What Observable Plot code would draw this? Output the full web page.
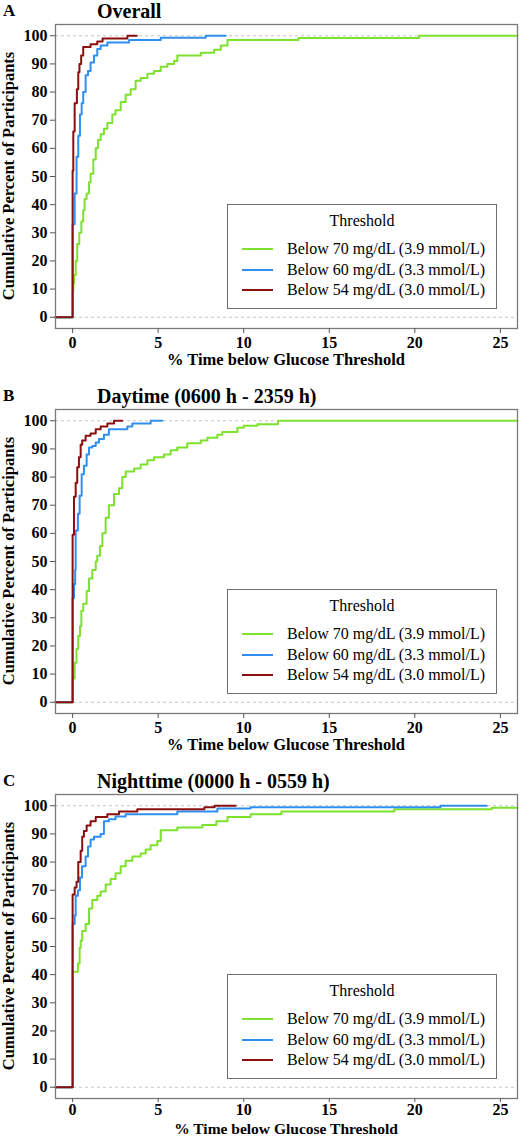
<!DOCTYPE html>
<html>
<head>
<meta charset="utf-8">
<script src="https://cdn.jsdelivr.net/npm/d3@7"></script>
<script src="https://cdn.jsdelivr.net/npm/@observablehq/plot@0.6"></script>
<style>
  body { margin: 0; background: #fff; }
  #root { width: 520px; height: 1138px; position: relative; font-family: "Liberation Serif", "Times New Roman", serif; color: #000; overflow: hidden; }
  .panel { position: absolute; left: 0; width: 520px; height: 385px; }
  .panel svg { position: absolute; left: 0; top: 0; }
  .letter { position: absolute; left: 3px; top: 0; font-weight: bold; font-size: 17px; line-height: 22px; }
  .title { position: absolute; left: 97px; top: 0; font-weight: bold; font-size: 20px; line-height: 22px; white-space: nowrap; }
  .xlabel { position: absolute; left: 55px; width: 462px; top: 353px; text-align: center; font-weight: bold; font-size: 16.5px; line-height: 14px; white-space: nowrap; }
  .ylabel { position: absolute; left: 9px; top: 176px; transform-origin: 0 0; transform: rotate(-90deg) translate(-50%, -50%); font-weight: bold; font-size: 16.5px; line-height: 20px; white-space: nowrap; }
  .legend { position: absolute; left: 227px; top: 204px; width: 270px; height: 105px; border: 1px solid #6e6e6e; box-sizing: border-box; background: #fff; font-size: 16px; }
  .legend .lt { position: absolute; left: 0; width: 100%; top: 6px; text-align: center; line-height: 20px; }
  .legend .row { position: absolute; left: 0; width: 100%; height: 20px; line-height: 20px; }
  .legend .sw { position: absolute; left: 14px; width: 31px; height: 2px; top: 9px; }
  .legend .tx { position: absolute; left: 59px; top: 0; white-space: nowrap; }
</style>
</head>
<body>
<div id="root"></div>
<script>
// ---------- labels ----------
const panelLetters = ["A", "B", "C"];
const panelTitles = ["Overall", "Daytime (0600 h - 2359 h)", "Nighttime (0000 h - 0559 h)"];
const xAxisLabel = "% Time below Glucose Threshold";
const yAxisLabel = "Cumulative Percent of Participants";
const legendTitle = "Threshold";
const seriesNames = ["Below 70 mg/dL (3.9 mmol/L)", "Below 60 mg/dL (3.3 mmol/L)", "Below 54 mg/dL (3.0 mmol/L)"];
const seriesColors = ["#7ee12f", "#2f8ff0", "#8b0f0f"];
const xTicks = [0, 5, 10, 15, 20, 25];
const yTicks = [0, 10, 20, 30, 40, 50, 60, 70, 80, 90, 100];

// ---------- Panel A: Overall ----------
const aBelow70X = [-1, 0, 0.04, 0.08, 0.18, 0.27, 0.39, 0.51, 0.62, 0.70, 0.82, 0.96, 1.05, 1.21, 1.35, 1.48, 1.64, 1.83, 2.03, 2.32, 2.51, 2.81, 3.10, 3.39, 3.68, 3.98, 4.37, 4.76, 5.15, 5.54, 5.93, 6.12, 7.50, 8.27, 8.66, 9.05, 13.2, 20.25, 26];
const aBelow70Y = [0, 9, 12, 15, 20, 26, 30, 34, 38, 42, 44, 48, 51, 56, 60, 63, 65, 67, 69, 72, 73.5, 76.5, 79, 81, 84, 85, 86.5, 87.5, 89, 90, 91, 93, 94, 95, 96.5, 98.5, 99.2, 100, 100];
const aBelow60X = [-1, 0, 0.12, 0.23, 0.33, 0.43, 0.53, 0.62, 0.76, 0.90, 1.05, 1.25, 1.44, 1.64, 2.03, 3.30, 5.15, 7.78, 8.95];
const aBelow60Y = [0, 33, 44, 57, 64.5, 72, 76, 80, 86, 87.5, 90.5, 93, 95.3, 96.5, 97.6, 98.5, 99.3, 100, 100];
const aBelow54X = [-1, 0, 0.04, 0.12, 0.25, 0.33, 0.40, 0.50, 0.62, 1.05, 1.44, 1.75, 3.20, 3.75];
const aBelow54Y = [0, 52, 66, 76, 81, 87, 90, 93, 96, 97, 98, 99, 100, 100];

// ---------- Panel B: Daytime ----------
const bBelow70X = [-1, 0, 0.12, 0.23, 0.33, 0.43, 0.51, 0.62, 0.82, 0.96, 1.15, 1.35, 1.44, 1.60, 1.74, 1.93, 2.12, 2.42, 2.71, 2.90, 3.10, 3.59, 3.98, 4.37, 4.76, 5.34, 5.73, 6.12, 6.70, 7.49, 7.88, 8.46, 8.75, 9.63, 10.0, 10.8, 12.0, 26];
const bBelow70Y = [0, 8.4, 14, 19, 23.5, 27, 32.5, 35, 39.5, 44, 47, 50, 52, 55.5, 60, 65.5, 70, 74, 76, 80, 82, 83, 84.5, 86, 87, 88, 89.5, 90.5, 92, 93, 94, 95, 96, 97.5, 98.2, 98.8, 100, 100];
const bBelow60X = [-1, 0, 0.08, 0.15, 0.18, 0.31, 0.41, 0.53, 0.66, 0.82, 0.96, 1.15, 1.35, 1.54, 1.83, 2.12, 3.20, 3.49, 4.56, 5.24];
const bBelow60Y = [0, 37, 42, 47, 61, 67, 73.4, 81, 84, 88, 90.5, 91, 92.3, 93.5, 95, 97, 98, 99, 100, 100];
const bBelow54X = [-1, 0, 0.08, 0.18, 0.27, 0.37, 0.47, 0.56, 0.76, 1.05, 1.35, 1.64, 2.03, 2.42, 2.90];
const bBelow54Y = [0, 59.5, 73, 78, 83.5, 87, 91.5, 93, 94.7, 95.5, 97, 98, 99, 100, 100];

// ---------- Panel C: Nighttime ----------
const cBelow70X = [-1, 0, 0.31, 0.41, 0.47, 0.56, 0.76, 0.96, 1.15, 1.44, 1.64, 1.93, 2.22, 2.51, 2.81, 3.10, 3.49, 3.98, 4.27, 4.56, 4.95, 5.15, 6.12, 7.58, 8.40, 9.05, 10.4, 12.2, 18.8, 24.5, 26];
const cBelow70Y = [0, 41, 44, 49.5, 52, 55.5, 58, 63.5, 66.5, 68, 69.5, 72, 74, 76, 78.5, 80.5, 82, 83, 84.5, 86, 87.5, 91.3, 92.3, 93.2, 94.5, 96, 97, 98, 98.8, 99.3, 99.3];
const cBelow60X = [-1, 0, 0.12, 0.18, 0.31, 0.43, 0.55, 0.76, 0.90, 1.05, 1.25, 1.64, 1.83, 2.12, 2.51, 3.10, 6.12, 8.46, 10.4, 21.5, 24.2];
const cBelow60Y = [0, 58, 61, 68, 70, 74.5, 78.5, 82, 85.5, 88, 89, 90, 94.5, 95.2, 96.2, 97, 98, 99, 99.5, 100, 100];
const cBelow54X = [-1, 0, 0.12, 0.23, 0.33, 0.47, 0.56, 0.66, 0.82, 1.05, 1.35, 2.03, 2.71, 3.78, 7.70, 8.30, 9.53];
const cBelow54Y = [0, 68.5, 71, 73, 80, 84, 89, 91, 93, 94.5, 96, 97, 98, 98.8, 99.5, 100, 100];

const panelSeries = [
  [[aBelow70X, aBelow70Y], [aBelow60X, aBelow60Y], [aBelow54X, aBelow54Y]],
  [[bBelow70X, bBelow70Y], [bBelow60X, bBelow60Y], [bBelow54X, bBelow54Y]],
  [[cBelow70X, cBelow70Y], [cBelow60X, cBelow60Y], [cBelow54X, cBelow54Y]]
];

const root = document.getElementById("root");

panelSeries.forEach((series, p) => {
  const rows = [];
  series.forEach(([xs, ys], s) => {
    xs.forEach((x, i) => rows.push({series: seriesNames[s], x, y: ys[i]}));
  });

  const last = p === 2;

  const panel = document.createElement("div");
  panel.className = "panel";
  panel.style.top = (p * 385) + "px";
  root.appendChild(panel);

  const chart = Plot.plot({
    width: 520,
    height: 385,
    marginTop: 24,
    marginBottom: 57,
    marginLeft: 55,
    marginRight: 3,
    x: {domain: [-1, 26]},
    y: {domain: [-4, 104]},
    color: {domain: seriesNames, range: seriesColors},
    style: {fontFamily: "'Liberation Serif', 'Times New Roman', serif", fontSize: "16px", fontWeight: "bold", color: "#000", background: "transparent"},
    marks: [
      Plot.ruleY([0, 100], {stroke: "#c4c4c4", strokeDasharray: "3,3", strokeWidth: 1}),
      Plot.line(rows, {x: "x", y: "y", z: "series", stroke: "series", curve: "step-after", strokeWidth: 2}),
      Plot.frame({stroke: "#7a7a7a", strokeWidth: 1.3}),
      Plot.axisX({ticks: xTicks, tickSize: last ? 4 : 5, tickPadding: last ? 1 : 3, label: null, stroke: "#555"}),
      Plot.axisY({ticks: yTicks, tickSize: 5, tickPadding: 3, label: null, stroke: "#555"})
    ]
  });
  panel.appendChild(chart);

  const letter = document.createElement("div");
  letter.className = "letter";
  letter.textContent = panelLetters[p];
  panel.appendChild(letter);

  const title = document.createElement("div");
  title.className = "title";
  title.textContent = panelTitles[p];
  panel.appendChild(title);

  const xl = document.createElement("div");
  xl.className = "xlabel";
  xl.textContent = xAxisLabel;
  if (last) { xl.style.top = "352px"; xl.style.fontSize = "15.5px"; }
  panel.appendChild(xl);

  const yl = document.createElement("div");
  yl.className = "ylabel";
  yl.textContent = yAxisLabel;
  panel.appendChild(yl);

  const legend = document.createElement("div");
  legend.className = "legend";
  const lt = document.createElement("div");
  lt.className = "lt";
  lt.textContent = legendTitle;
  legend.appendChild(lt);
  seriesNames.forEach((name, i) => {
    const row = document.createElement("div");
    row.className = "row";
    row.style.top = (34 + i * 20.5) + "px";
    const sw = document.createElement("div");
    sw.className = "sw";
    sw.style.background = seriesColors[i];
    const tx = document.createElement("div");
    tx.className = "tx";
    tx.textContent = name;
    row.appendChild(sw);
    row.appendChild(tx);
    legend.appendChild(row);
  });
  panel.appendChild(legend);
});
</script>
</body>
</html>
